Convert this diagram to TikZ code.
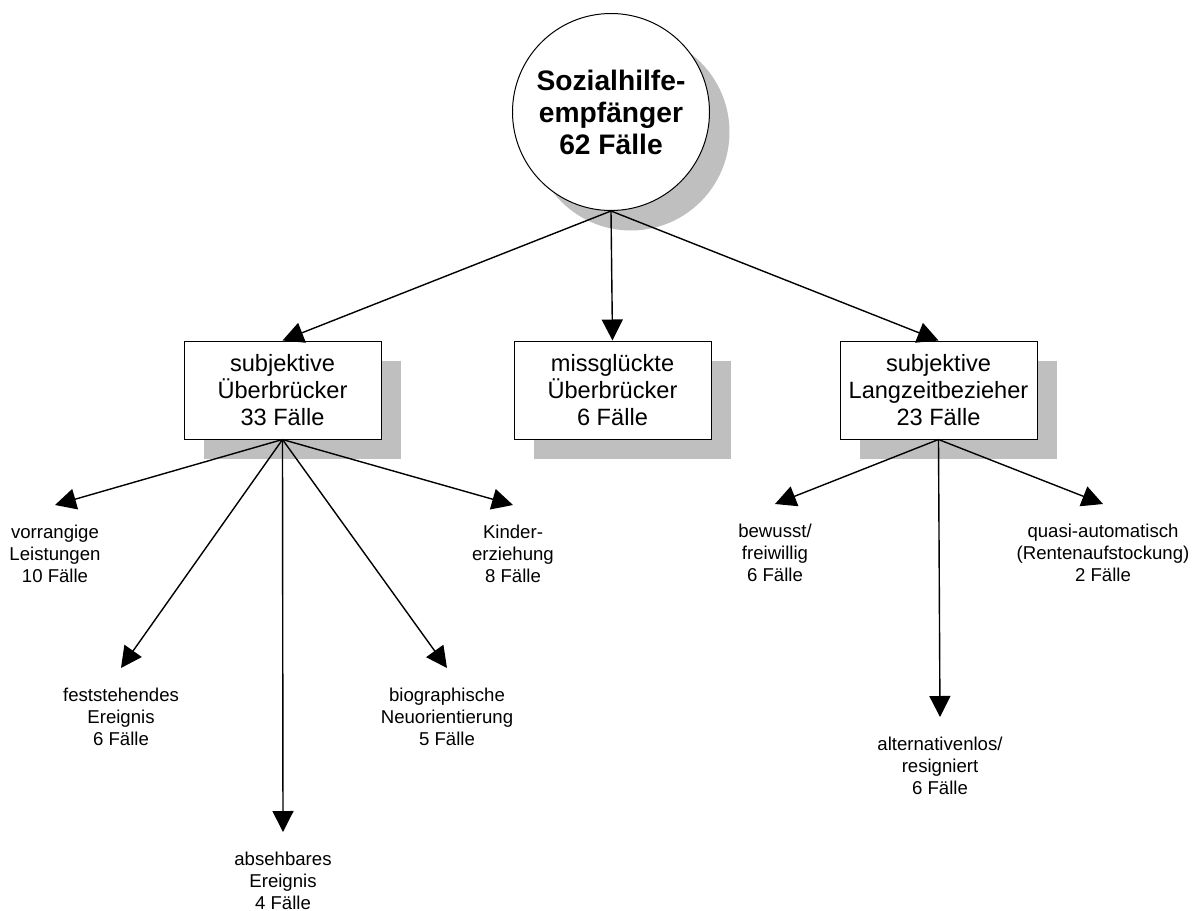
\documentclass[tikz,border=0pt]{standalone}
\usepackage{fontspec}
\setmainfont{Liberation Sans}
\usepackage{tikz}
\usetikzlibrary{arrows.meta}
\usetikzlibrary{shadows}
\def\fb{\fontsize{14.1}{16}\selectfont\bfseries}
\def\fm{\fontsize{11.8}{13.5}\selectfont}
\def\fs{\fontsize{9.3}{11}\selectfont}

\begin{document}
\begin{tikzpicture}[x=0.5pt,y=-0.5pt,
    schatten/.style={drop shadow={shadow xshift=10pt,shadow yshift=-10pt,fill=black!25,opacity=1}},
    wurzel/.style={circle,draw,fill=white,line width=0.5pt,minimum size=98.5pt,inner sep=0pt,align=center,font=\fb,schatten},
    kasten/.style={rectangle,draw,fill=white,line width=0.5pt,minimum width=98.5pt,minimum height=49pt,inner sep=0pt,align=center,font=\fm,schatten},
    blatt/.style={anchor=north,align=center,inner xsep=0pt,inner ysep=8.8pt,outer sep=0pt,font=\fs},
    pfeil/.style={line width=0.7pt,-{Triangle[length=10.5pt,width=10.5pt]}}]

              \useasboundingbox (0,0) rectangle (1196,911); %全体の大きさ

              % 根
              \node[wurzel] (SH) at (611,112) {Sozialhilfe-\\empfänger\\62 Fälle}; %円

              % 第一段
              \node[kasten] (SU) at (282.5,390) {subjektive\\Überbrücker\\33 Fälle}; %左の箱
              \node[kasten] (MU) at (612.5,390) {missglückte\\Überbrücker\\6 Fälle}; %中央の箱
              \node[kasten] (LZ) at (938.5,390) {subjektive\\Langzeitbezieher\\23 Fälle}; %右の箱
              \draw[pfeil] (SH.south)--(SU.north);
              \draw[pfeil] (SH.south)--(MU.north);
              \draw[pfeil] (SH.south)--(LZ.north);

              % 第二段（左）
              \node[blatt] (VL) at (55,505) {\strut vorrangige\\Leistungen\\10 Fälle};
              \node[blatt] (FE) at (121,668) {\strut feststehendes\\Ereignis\\6 Fälle};
              \node[blatt] (AE) at (283,832) {\strut absehbares\\Ereignis\\4 Fälle};
              \node[blatt] (BN) at (447,668) {\strut biographische\\Neuorientierung\\5 Fälle};
              \node[blatt] (KE) at (513,505) {\strut Kinder-\\erziehung\\8 Fälle};
              \foreach \z in {VL,FE,AE,BN,KE}
                \draw[pfeil] (SU.south)--(\z.north); %左の箱から

              % 第二段（右）
              \node[blatt] (BF) at (775,504) {\strut bewusst/\\freiwillig\\6 Fälle};
              \node[blatt] (AR) at (940,717) {\strut alternativenlos/\\resigniert\\6 Fälle};
              \node[blatt] (QA) at (1103,504) {\strut quasi-automatisch\\(Rentenaufstockung)\\2 Fälle};
              \foreach \z in {BF,AR,QA}
                \draw[pfeil] (LZ.south)--(\z.north); %右の箱から

\end{tikzpicture}
\end{document}
